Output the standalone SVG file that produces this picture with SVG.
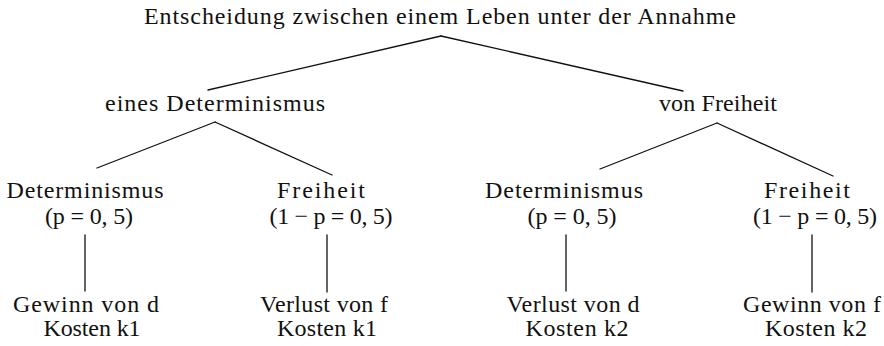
<svg xmlns="http://www.w3.org/2000/svg" width="884" height="346" viewBox="0 0 884 346">
<style>
text{font-family:"Liberation Serif","Times New Roman",serif;font-size:24px;fill:#111;text-anchor:middle}
.c line{stroke:#111;stroke-width:1.3;stroke-linecap:round}
</style>
<rect width="884" height="346" fill="#fff"/>
<g class="c" id="connectors">
<line x1="441" y1="36" x2="208" y2="90"/>
<line x1="441" y1="36" x2="683" y2="91"/>
<line x1="215" y1="122" x2="97" y2="168"/>
<line x1="215" y1="122" x2="332" y2="175"/>
<line x1="717" y1="123" x2="600" y2="169"/>
<line x1="717" y1="123" x2="833" y2="176"/>
<line x1="85" y1="235" x2="85" y2="291"/>
<line x1="327" y1="235" x2="327" y2="292"/>
<line x1="566" y1="235" x2="566" y2="291"/>
<line x1="812" y1="235" x2="812" y2="292"/>
</g>
<g id="root"><text x="440" y="24" textLength="592" lengthAdjust="spacing">Entscheidung zwischen einem Leben unter der Annahme</text></g>
<g id="det"><text x="215" y="111" textLength="220" lengthAdjust="spacing">eines Determinismus</text></g>
<g id="frei"><text x="718" y="111" textLength="118" lengthAdjust="spacing">von Freiheit</text></g>
<g id="det-det"><text x="85" y="198" textLength="157" lengthAdjust="spacing">Determinismus</text><text x="89" y="224" textLength="88" lengthAdjust="spacing">(p = 0, 5)</text></g>
<g id="det-frei"><text x="321" y="198" textLength="88" lengthAdjust="spacing">Freiheit</text><text x="331" y="224" textLength="123" lengthAdjust="spacing">(1 − p = 0, 5)</text></g>
<g id="frei-det"><text x="564" y="198" textLength="158" lengthAdjust="spacing">Determinismus</text><text x="572" y="224" textLength="89" lengthAdjust="spacing">(p = 0, 5)</text></g>
<g id="frei-frei"><text x="807" y="198" textLength="86" lengthAdjust="spacing">Freiheit</text><text x="815" y="224" textLength="124" lengthAdjust="spacing">(1 − p = 0, 5)</text></g>
<g id="leaf1"><text x="86" y="312" textLength="146" lengthAdjust="spacing">Gewinn von d</text><text x="92" y="336" textLength="97" lengthAdjust="spacing">Kosten k1</text></g>
<g id="leaf2"><text x="324" y="312" textLength="128" lengthAdjust="spacing">Verlust von f</text><text x="327" y="336" textLength="100" lengthAdjust="spacing">Kosten k1</text></g>
<g id="leaf3"><text x="573" y="312" textLength="133" lengthAdjust="spacing">Verlust von d</text><text x="577" y="336" textLength="103" lengthAdjust="spacing">Kosten k2</text></g>
<g id="leaf4"><text x="812" y="312" textLength="138" lengthAdjust="spacing">Gewinn von f</text><text x="816" y="336" textLength="102" lengthAdjust="spacing">Kosten k2</text></g>
</svg>
